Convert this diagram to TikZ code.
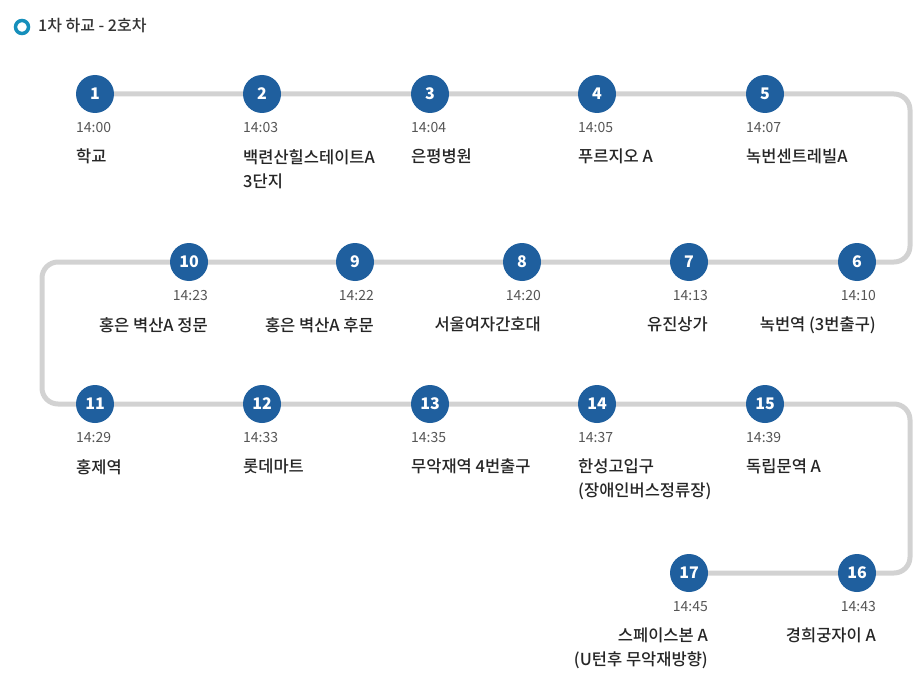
\documentclass[tikz,border=0pt]{standalone}
\usepackage{fontspec}
\setmainfont{Noto Sans CJK KR}
\newfontfamily\krmedium{Noto Sans CJK KR Medium}
\definecolor{stopblue}{HTML}{1F5F9E}
\definecolor{railgray}{HTML}{D2D2D2}
\definecolor{timegray}{HTML}{555555}
\begin{document}
\begin{tikzpicture}[x=1pt,y=-1pt,
        stop/.style={circle,fill=stopblue,text=white,minimum size=38pt,inner sep=0pt,font=\fontsize{16}{16}\selectfont\bfseries},
        time/.style={text=timegray,inner sep=0pt,font=\fontsize{14}{14}\selectfont},
        place/.style={inner sep=0pt,font=\krmedium\fontsize{16.5}{24}\selectfont,text=black!85}]
    \useasboundingbox (0,0) rectangle (923,690);
    % title
    \node (ring) [circle,draw=stopblue!70!cyan,line width=3.5pt,minimum size=13pt,inner sep=0pt] at (22,27) {};
    \node (title) [anchor=west,inner sep=0pt,font=\krmedium\fontsize{16}{16}\selectfont,text=black!80] at (38,26) {1차 하교 - 2호차};
    % rail
    \draw [railgray,line width=5pt,rounded corners=16pt]
        (95,94) -- (910,94) -- (910,262) -- (42,262) -- (42,404) -- (910,404) -- (910,573) -- (689,573);
    % row 1 and row 3, left aligned
    \foreach \n/\x/\y/\t/\p in {
        1/95/94/14:00/학교,
        2/262/94/14:03/{백련산힐스테이트A\\3단지},
        3/430/94/14:04/은평병원,
        4/597/94/14:05/푸르지오 A,
        5/765/94/14:07/녹번센트레빌A,
        11/95/404/14:29/홍제역,
        12/262/404/14:33/롯데마트,
        13/430/404/14:35/무악재역 4번출구,
        14/597/404/14:37/{한성고입구\\(장애인버스정류장)},
        15/765/404/14:39/독립문역 A} {
        \node (s\n) [stop] at (\x,\y) {\n};
        \node (t\n) [time,anchor=north west] at (\x-19,\y+28) {\t};
        \node (p\n) [place,anchor=north west,align=left] at (\x-19,\y+55) {\p};
    }
    % row 2 and row 4, right aligned
    \foreach \n/\x/\y/\t/\p in {
        6/857/262/14:10/녹번역 (3번출구),
        7/689/262/14:13/유진상가,
        8/522/262/14:20/서울여자간호대,
        9/355/262/14:22/홍은 벽산A 후문,
        10/189/262/14:23/홍은 벽산A 정문,
        16/857/573/14:43/경희궁자이 A,
        17/689/573/14:45/{스페이스본 A\\(U턴후 무악재방향)}} {
        \node (s\n) [stop] at (\x,\y) {\n};
        \node (t\n) [time,anchor=north east] at (\x+19,\y+28) {\t};
        \node (p\n) [place,anchor=north east,align=right] at (\x+19,\y+55) {\p};
    }
\end{tikzpicture}
\end{document}
